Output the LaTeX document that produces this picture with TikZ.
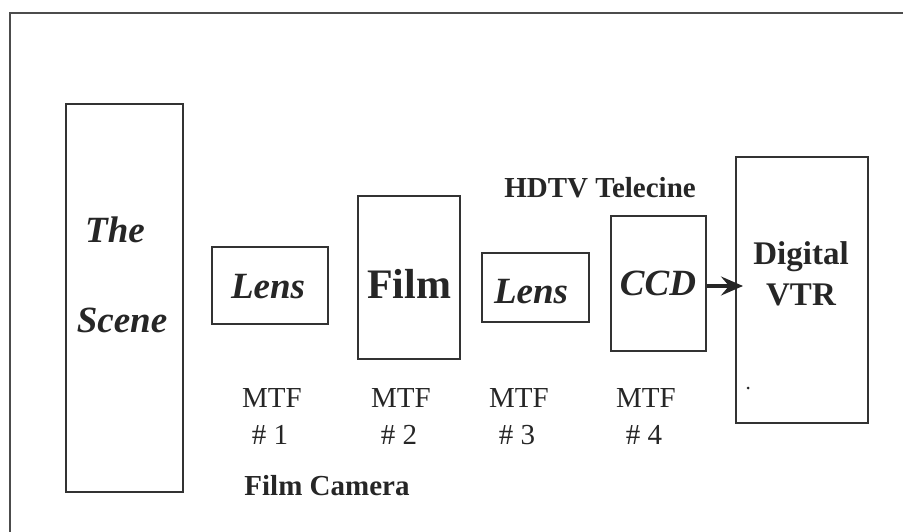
\documentclass[tikz,border=0pt]{standalone}
\usepackage{fontspec}
\setmainfont{Liberation Serif}
\usetikzlibrary{arrows.meta}
\tikzset{
  box/.style={draw=black!80, line width=1.2pt, minimum width=#1},
  frameline/.style={draw=black!70, line width=1.5pt},
  bi/.style={font=\fontsize{#1}{#1}\selectfont\bfseries\itshape, text=black!85, inner sep=0pt, anchor=base},
  bd/.style={font=\fontsize{#1}{#1}\selectfont\bfseries, text=black!85, inner sep=0pt, anchor=base},
  rg/.style={font=\fontsize{#1}{#1}\selectfont, text=black!85, inner sep=0pt, anchor=base},
}
\begin{document}
\begin{tikzpicture}[x=1pt,y=-1pt]
\useasboundingbox (0,0) rectangle (903,532);
% frame (top and left edges)
\draw[frameline] (10,532) -- (10,13) -- (903,13);
% boxes
\node[box=117pt, minimum height=388pt] (scene) at (124.5,298) {};
\node[box=116pt, minimum height=77pt] (lens1) at (270,285.5) {};
\node[box=102pt, minimum height=163pt] (film) at (409,277.5) {};
\node[box=107pt, minimum height=69pt] (lens2) at (535.5,287.5) {};
\node[box=95pt, minimum height=135pt] (ccd) at (658.5,283.5) {};
\node[box=132pt, minimum height=266pt] (vtr) at (802,290) {};
% texts in boxes
\node[bi=37] (tThe) at (115,243) {The};
\node[bi=37] (tScene) at (122,332) {Scene};
\node[bi=37] (tLens1) at (268,298) {Lens};
\node[bd=42] (tFilm) at (409,298) {Film};
\node[bi=37] (tLens2) at (531,303) {Lens};
\node[bi=37] (tCCD) at (658,295) {CCD};
\node[bd=33] (tDig) at (801,265) {Digital};
\node[bd=33] (tVTR) at (801,305) {VTR};
% arrow
\coordinate (atip) at (743,286);
\draw[-{Stealth[length=22pt,width=19pt,inset=8pt]}, line width=3.2pt, black!85] (ccd.east |- atip) -- (atip);
% heading labels
\node[bd=29] (hdtv) at (600,198) {HDTV Telecine};
\node[bd=29] (fcam) at (327,495) {Film Camera};
% MTF labels
\node[rg=29] (m1) at (272,407) {MTF};
\node[rg=29] (n1) at (270,444) {\# 1};
\node[rg=29] (m2) at (401,407) {MTF};
\node[rg=29] (n2) at (399,444) {\# 2};
\node[rg=29] (m3) at (519,407) {MTF};
\node[rg=29] (n3) at (517,444) {\# 3};
\node[rg=29] (m4) at (646,407) {MTF};
\node[rg=29] (n4) at (644,444) {\# 4};
% small dot
\fill[black!85] (748,388) circle (1.5pt);
\end{tikzpicture}
\end{document}
